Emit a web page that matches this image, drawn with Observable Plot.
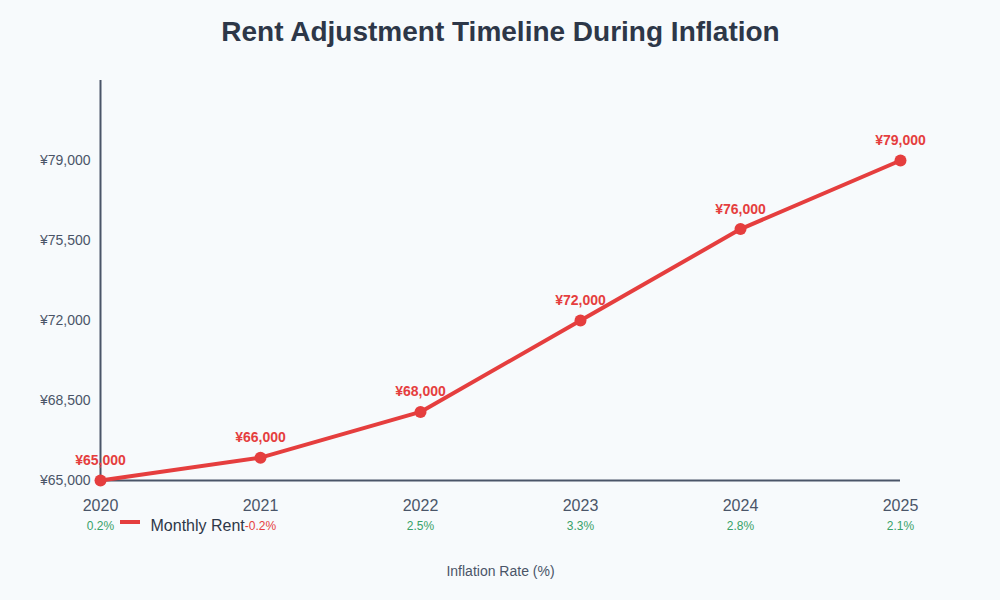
<!DOCTYPE html>
<html>
<head>
<meta charset="utf-8">
<script src="https://cdn.jsdelivr.net/npm/d3@7"></script>
<script src="https://cdn.jsdelivr.net/npm/@observablehq/plot@0.6"></script>
<style>
  html, body { margin: 0; padding: 0; background: #f7fafc; }
  #chart svg { display: block; font-family: "Liberation Sans", Arial, sans-serif; }
</style>
</head>
<body>
<div id="chart"></div>
<script>
const years = [2020, 2021, 2022, 2023, 2024, 2025];
const rents = [65000, 66000, 68000, 72000, 76000, 79000];
const inflation = [0.2, -0.2, 2.5, 3.3, 2.8, 2.1];
const yTicks = [65000, 68500, 72000, 75500, 79000];
const titleText = "Rent Adjustment Timeline During Inflation";
const seriesName = "Monthly Rent";
const xAxisTitle = "Inflation Rate (%)";

const data = years.map((y, i) => ({year: y, rent: rents[i], infl: inflation[i]}));
const yen = v => "¥" + d3.format(",")(v);

const red = "#e53e3e", green = "#38a169", axisColor = "#4a5568", textColor = "#4a5568";

const chart = Plot.plot({
  width: 1000,
  height: 600,
  marginTop: 80,
  marginBottom: 120,
  marginLeft: 100,
  marginRight: 100,
  style: {background: "#f7fafc", fontFamily: "'Liberation Sans', Arial, sans-serif"},
  x: {domain: [2020, 2025], label: null},
  y: {domain: [65000, 82500], label: null},
  marks: [
    Plot.axisY({ticks: yTicks, tickFormat: yen, tickSize: 0, tickPadding: 10, fontSize: 14, color: textColor, label: null}),
    Plot.axisX({ticks: years, tickFormat: d => String(d), tickSize: 0, tickPadding: 19, fontSize: 16, color: textColor, label: null}),
    Plot.ruleY([65000], {stroke: axisColor, strokeWidth: 2}),
    Plot.ruleX([2020], {stroke: axisColor, strokeWidth: 2}),
    Plot.line(data, {x: "year", y: "rent", stroke: red, strokeWidth: 4}),
    Plot.dot(data, {x: "year", y: "rent", r: 6, fill: red}),
    Plot.text(data, {x: "year", y: "rent", text: d => yen(d.rent), dy: -20, fill: red, fontWeight: "bold", fontSize: 14}),
    Plot.text(data, {x: "year", y: () => 65000, text: d => d.infl.toFixed(1) + "%", dy: 46, fill: d => d.infl < 0 ? red : green, fontSize: 12}),
    Plot.text([titleText], {frameAnchor: "top", text: d => d, dy: -40, lineAnchor: "bottom", fontSize: 28, fontWeight: "bold", fill: "#2d3748"}),
    Plot.text([xAxisTitle], {frameAnchor: "bottom", text: d => d, dy: 95, fontSize: 14, fill: textColor}),
    Plot.text([seriesName], {frameAnchor: "bottom-left", text: d => d, dx: 50, dy: 45, lineAnchor: "middle", textAnchor: "start", fontSize: 16, fill: "#2d3748"})
  ]
});

// legend swatch
d3.select(chart).append("line")
  .attr("x1", 120).attr("x2", 140).attr("y1", 522).attr("y2", 522)
  .attr("stroke", red).attr("stroke-width", 4);

document.getElementById("chart").appendChild(chart);
</script>
</body>
</html>
